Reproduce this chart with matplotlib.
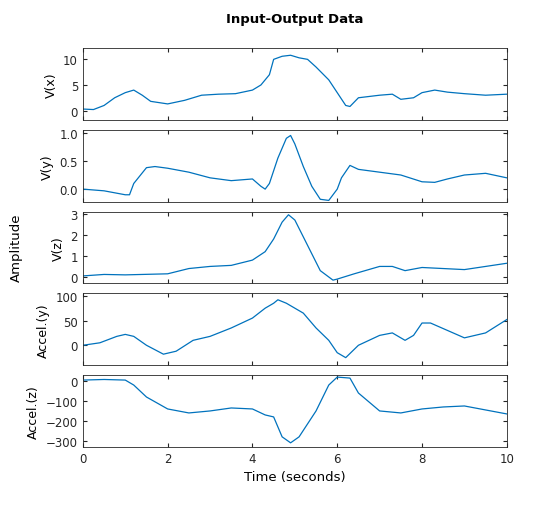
import matplotlib.pyplot as plt

# --- data ---
t_vx = [0, 0.25, 0.5, 0.75, 1, 1.2, 1.4, 1.6, 2, 2.4, 2.8, 3.2, 3.6, 4, 4.2, 4.4, 4.5, 4.7, 4.9, 5.1, 5.3, 5.5, 5.8, 6.0, 6.2, 6.3, 6.5, 7, 7.3, 7.5, 7.8, 8, 8.3, 8.6, 9, 9.5, 10]
vx = [0.3, 0.2, 1, 2.5, 3.5, 4, 3, 1.8, 1.3, 2.0, 3.0, 3.2, 3.3, 4, 5, 7, 10, 10.6, 10.8, 10.3, 10, 8.5, 6, 3.5, 1, 0.8, 2.5, 3, 3.2, 2.2, 2.5, 3.5, 4, 3.6, 3.3, 3, 3.2]

t_vy = [0, 0.5, 1, 1.1, 1.2, 1.5, 1.7, 2, 2.5, 3, 3.5, 4, 4.2, 4.3, 4.4, 4.6, 4.8, 4.9, 5.0, 5.2, 5.4, 5.6, 5.8, 6.0, 6.1, 6.3, 6.5, 7, 7.5, 8, 8.3, 8.6, 9, 9.5, 10]
vy = [0, -0.03, -0.1, -0.1, 0.1, 0.38, 0.4, 0.37, 0.3, 0.2, 0.15, 0.18, 0.05, 0, 0.1, 0.55, 0.9, 0.95, 0.8, 0.4, 0.05, -0.18, -0.2, 0, 0.2, 0.42, 0.35, 0.3, 0.25, 0.13, 0.12, 0.18, 0.25, 0.28, 0.2]

t_vz = [0, 0.5, 1, 2, 2.5, 3, 3.5, 4, 4.3, 4.5, 4.7, 4.85, 5, 5.3, 5.6, 5.9, 6.0, 6.4, 7, 7.3, 7.6, 8, 8.5, 9, 9.5, 10]
vz = [0.05, 0.12, 0.1, 0.15, 0.4, 0.5, 0.55, 0.8, 1.2, 1.8, 2.6, 2.95, 2.7, 1.5, 0.3, -0.15, -0.1, 0.15, 0.5, 0.5, 0.3, 0.45, 0.4, 0.35, 0.5, 0.65]

t_ay = [0, 0.4, 0.8, 1, 1.2, 1.5, 1.9, 2.2, 2.6, 3, 3.5, 4, 4.3, 4.5, 4.6, 4.8, 5.0, 5.2, 5.5, 5.8, 6.0, 6.2, 6.5, 7, 7.3, 7.6, 7.8, 8.0, 8.2, 8.6, 9, 9.5, 10]
ay = [0, 5, 18, 22, 18, 0, -18, -12, 10, 18, 35, 55, 75, 85, 92, 85, 75, 65, 35, 10, -15, -25, 0, 20, 25, 10, 20, 45, 45, 30, 15, 25, 52]

t_az = [0, 0.5, 1, 1.2, 1.5, 2, 2.5, 3, 3.5, 4, 4.3, 4.5, 4.7, 4.9, 5.1, 5.5, 5.8, 6.0, 6.3, 6.5, 7, 7.5, 8, 8.5, 9, 9.5, 10]
az = [5, 8, 5, -20, -80, -140, -160, -150, -135, -140, -170, -180, -280, -310, -280, -150, -20, 20, 15, -60, -150, -160, -140, -130, -125, -145, -165]

labels = ["V(x)", "V(y)", "V(z)", "Accel.(y)", "Accel.(z)"]
series = [(t_vx, vx), (t_vy, vy), (t_vz, vz), (t_ay, ay), (t_az, az)]
ylims = [(-1.8, 12.2), (-0.22, 1.05), (-0.3, 3.1), (-40, 105), (-330, 30)]
yticks = [[0, 5, 10], [0, 0.5, 1], [0, 1, 2, 3], [0, 50, 100], [0, -100, -200, -300]]

plt.rcParams['font.family'] = 'DejaVu Sans'
plt.rcParams['font.size'] = 8.5
fig, axes = plt.subplots(5, 1, figsize=(5.6, 5.06), dpi=100, sharex=True)
fig.subplots_adjust(left=0.148, right=0.905, top=0.903, bottom=0.115, hspace=0.14)

for ax, (t, y), lab, yl, yt in zip(axes, series, labels, ylims, yticks):
    ax.plot(t, y, color='#0072BD', lw=0.9)
    ax.set_ylim(*yl)
    ax.set_yticks(yt)
    ax.set_xlim(0, 10)
    ax.set_ylabel(lab, fontsize=9)
    ax.tick_params(direction='in', length=3, top=True, right=True, colors='#262626')
    for s in ax.spines.values():
        s.set_color('#262626')
        s.set_linewidth(0.6)

axes[-1].set_xticks([0, 2, 4, 6, 8, 10])
axes[-1].set_xlabel("Time (seconds)", fontsize=9.5)
fig.suptitle("Input-Output Data", fontsize=9.5, fontweight='bold', y=0.975, x=0.527)
fig.text(0.03, 0.51, "Amplitude", rotation=90, va='center', ha='center', fontsize=9.5)

fig.savefig("out.png")
